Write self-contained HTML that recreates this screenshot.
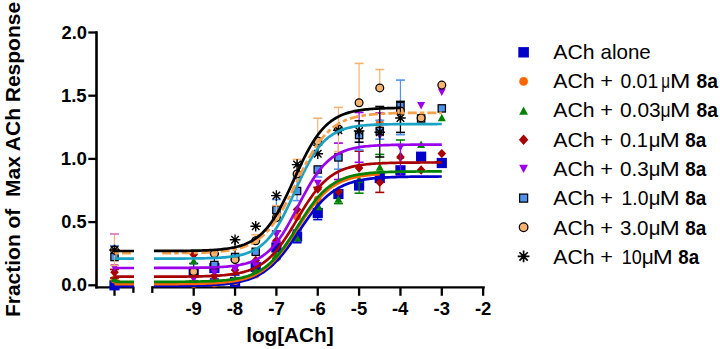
<!DOCTYPE html>
<html><head><meta charset="utf-8"><style>
html,body{margin:0;padding:0;background:#fff;width:720px;height:349px;overflow:hidden}
svg{display:block}
text{font-family:"Liberation Sans",sans-serif}
.tk{font-size:18px;font-weight:bold}
.ti{font-size:20px;font-weight:bold}
.lg{font-size:20px}
.lg .b{font-weight:bold}
.lg .mu{font-family:"Liberation Serif",serif}
</style></head><body>
<svg width="720" height="349" viewBox="0 0 720 349">
<rect width="720" height="349" fill="#fff"/>
<g stroke="#000" stroke-width="2.6" fill="none" stroke-linecap="butt">
<path d="M96.5 31.2V288.6"/>
</g>
<g stroke="#000" stroke-width="2.3" fill="none">
<path d="M88.3 285.3H97"/>
<path d="M88.3 222.1H97"/>
<path d="M88.3 158.9H97"/>
<path d="M88.3 95.7H97"/>
<path d="M88.3 32.5H97"/>
<path d="M95.3 287.4H134.4"/>
<path d="M152.3 287.4H484.8"/>
<path d="M114.5 287.4V295.8"/>
<path d="M133.4 287.4V292.9"/>
<path d="M152.3 286.2V292.9"/>
<path d="M193.7 287.4V295.8"/>
<path d="M235.05 287.4V295.8"/>
<path d="M276.4 287.4V295.8"/>
<path d="M317.75 287.4V295.8"/>
<path d="M359.1 287.4V295.8"/>
<path d="M400.45 287.4V295.8"/>
<path d="M441.8 287.4V295.8"/>
<path d="M483.15 287.4V295.8"/>
</g>
<path d="M193.7 272.5V263.5" stroke="#0000C8" stroke-width="1.2"/><path d="M189.2 263.5h9" stroke="#0000C8" stroke-width="1.6"/><path d="M193.7 272.5V281" stroke="#0000C8" stroke-width="1.2"/><path d="M189.2 281h9" stroke="#0000C8" stroke-width="1.6"/>
<path d="M214.38 268V254.4" stroke="#0000C8" stroke-width="1.2"/><path d="M209.88 254.4h9" stroke="#0000C8" stroke-width="1.6"/><path d="M214.38 268V279" stroke="#0000C8" stroke-width="1.2"/><path d="M209.88 279h9" stroke="#0000C8" stroke-width="1.6"/>
<path d="M235.05 282V275" stroke="#0000C8" stroke-width="1.2"/><path d="M230.55 275h9" stroke="#0000C8" stroke-width="1.6"/>
<path d="M255.72 267V274.4" stroke="#0000C8" stroke-width="1.2"/><path d="M251.22 274.4h9" stroke="#0000C8" stroke-width="1.6"/>
<path d="M276.4 247.5V258.5" stroke="#0000C8" stroke-width="1.2"/><path d="M271.9 258.5h9" stroke="#0000C8" stroke-width="1.6"/>
<path d="M297.07 236.6V230.2" stroke="#0000C8" stroke-width="1.2"/><path d="M292.57 230.2h9" stroke="#0000C8" stroke-width="1.6"/><path d="M297.07 236.6V242.7" stroke="#0000C8" stroke-width="1.2"/><path d="M292.57 242.7h9" stroke="#0000C8" stroke-width="1.6"/>
<path d="M317.75 213V219.6" stroke="#0000C8" stroke-width="1.2"/><path d="M313.25 219.6h9" stroke="#0000C8" stroke-width="1.6"/>
<rect x="109.4" y="280.2" width="10.2" height="10.2" fill="#0000C8"/>
<rect x="188.6" y="267.4" width="10.2" height="10.2" fill="#0000C8"/>
<rect x="209.28" y="262.9" width="10.2" height="10.2" fill="#0000C8"/>
<rect x="229.95" y="276.9" width="10.2" height="10.2" fill="#0000C8"/>
<rect x="250.62" y="261.9" width="10.2" height="10.2" fill="#0000C8"/>
<rect x="271.3" y="242.4" width="10.2" height="10.2" fill="#0000C8"/>
<rect x="291.97" y="231.5" width="10.2" height="10.2" fill="#0000C8"/>
<rect x="312.65" y="207.9" width="10.2" height="10.2" fill="#0000C8"/>
<rect x="333.32" y="188.9" width="10.2" height="10.2" fill="#0000C8"/>
<rect x="354" y="180.4" width="10.2" height="10.2" fill="#0000C8"/>
<rect x="374.67" y="172.9" width="10.2" height="10.2" fill="#0000C8"/>
<rect x="395.35" y="165.2" width="10.2" height="10.2" fill="#0000C8"/>
<rect x="416.02" y="151.6" width="10.2" height="10.2" fill="#0000C8"/>
<rect x="436.7" y="157.9" width="10.2" height="10.2" fill="#0000C8"/>
<circle cx="114.5" cy="279.5" r="4" fill="#FF6600"/>
<circle cx="193.7" cy="283.84" r="4" fill="#FF6600"/>
<circle cx="214.38" cy="283.15" r="4" fill="#FF6600"/>
<circle cx="235.05" cy="280.96" r="4" fill="#FF6600"/>
<circle cx="255.72" cy="274.49" r="4" fill="#FF6600"/>
<circle cx="276.4" cy="258.1" r="4" fill="#FF6600"/>
<circle cx="297.07" cy="216.5" r="4" fill="#FF6600"/>
<circle cx="317.75" cy="199.8" r="4" fill="#FF6600"/>
<circle cx="379.77" cy="123" r="4" fill="#FF6600"/>
<path d="M276.4 255V258.6" stroke="#008200" stroke-width="1.2"/><path d="M271.9 258.6h9" stroke="#008200" stroke-width="1.6"/>
<path d="M317.75 205V209.5" stroke="#008200" stroke-width="1.2"/><path d="M313.25 209.5h9" stroke="#008200" stroke-width="1.6"/>
<path d="M338.42 199V203.6" stroke="#008200" stroke-width="1.2"/><path d="M333.92 203.6h9" stroke="#008200" stroke-width="1.6"/>
<path d="M359.1 179V193.2" stroke="#008200" stroke-width="1.2"/><path d="M354.6 193.2h9" stroke="#008200" stroke-width="1.6"/>
<path d="M379.77 167V154.4" stroke="#008200" stroke-width="1.2"/><path d="M375.27 154.4h9" stroke="#008200" stroke-width="1.6"/>
<path d="M400.45 155V140" stroke="#008200" stroke-width="1.2"/><path d="M395.95 140h9" stroke="#008200" stroke-width="1.6"/>
<path d="M114.5 274.7L118.5 282.3L110.5 282.3Z" fill="#008200"/>
<path d="M193.7 257L197.7 264.6L189.7 264.6Z" fill="#008200"/>
<path d="M214.38 277.2L218.38 284.8L210.38 284.8Z" fill="#008200"/>
<path d="M235.05 275.2L239.05 282.8L231.05 282.8Z" fill="#008200"/>
<path d="M255.72 266.2L259.73 273.8L251.72 273.8Z" fill="#008200"/>
<path d="M276.4 251.2L280.4 258.8L272.4 258.8Z" fill="#008200"/>
<path d="M297.07 233.7L301.07 241.3L293.07 241.3Z" fill="#008200"/>
<path d="M317.75 201.2L321.75 208.8L313.75 208.8Z" fill="#008200"/>
<path d="M338.42 195.2L342.42 202.8L334.42 202.8Z" fill="#008200"/>
<path d="M359.1 175.2L363.1 182.8L355.1 182.8Z" fill="#008200"/>
<path d="M379.77 163.2L383.77 170.8L375.77 170.8Z" fill="#008200"/>
<path d="M400.45 151.2L404.45 158.8L396.45 158.8Z" fill="#008200"/>
<path d="M421.12 140.4L425.12 148L417.12 148Z" fill="#008200"/>
<path d="M441.8 113.7L445.8 121.3L437.8 121.3Z" fill="#008200"/>
<path d="M114.5 272.3V269.4" stroke="#A80000" stroke-width="1.2"/><path d="M110 269.4h9" stroke="#A80000" stroke-width="1.6"/><path d="M114.5 272.3V278" stroke="#A80000" stroke-width="1.2"/><path d="M110 278h9" stroke="#A80000" stroke-width="1.6"/>
<path d="M276.4 240.6V230.9" stroke="#A80000" stroke-width="1.2"/><path d="M271.9 230.9h9" stroke="#A80000" stroke-width="1.6"/>
<path d="M317.75 189V187.3" stroke="#A80000" stroke-width="1.2"/><path d="M313.25 187.3h9" stroke="#A80000" stroke-width="1.6"/>
<path d="M359.1 168V151.2" stroke="#A80000" stroke-width="1.2"/><path d="M354.6 151.2h9" stroke="#A80000" stroke-width="1.6"/>
<path d="M379.77 182.4V192.4" stroke="#A80000" stroke-width="1.2"/><path d="M375.27 192.4h9" stroke="#A80000" stroke-width="1.6"/>
<path d="M114.5 267.6L118.8 272.3L114.5 277L110.2 272.3Z" fill="#A80000"/>
<path d="M193.7 249.8L198 254.5L193.7 259.2L189.4 254.5Z" fill="#A80000"/>
<path d="M214.38 271.3L218.68 276L214.38 280.7L210.07 276Z" fill="#A80000"/>
<path d="M235.05 265.3L239.35 270L235.05 274.7L230.75 270Z" fill="#A80000"/>
<path d="M255.72 255.8L260.02 260.5L255.72 265.2L251.42 260.5Z" fill="#A80000"/>
<path d="M276.4 235.9L280.7 240.6L276.4 245.3L272.1 240.6Z" fill="#A80000"/>
<path d="M297.07 204.9L301.38 209.6L297.07 214.3L292.77 209.6Z" fill="#A80000"/>
<path d="M317.75 184.3L322.05 189L317.75 193.7L313.45 189Z" fill="#A80000"/>
<path d="M338.42 186.8L342.72 191.5L338.42 196.2L334.12 191.5Z" fill="#A80000"/>
<path d="M359.1 163.3L363.4 168L359.1 172.7L354.8 168Z" fill="#A80000"/>
<path d="M379.77 177.7L384.07 182.4L379.77 187.1L375.47 182.4Z" fill="#A80000"/>
<path d="M400.45 152.3L404.75 157L400.45 161.7L396.15 157Z" fill="#A80000"/>
<path d="M421.12 165.3L425.43 170L421.12 174.7L416.82 170Z" fill="#A80000"/>
<path d="M441.8 148.9L446.1 153.6L441.8 158.3L437.5 153.6Z" fill="#A80000"/>
<path d="M276.4 235V230.9" stroke="#9A00EA" stroke-width="1.2"/><path d="M271.9 230.9h9" stroke="#9A00EA" stroke-width="1.6"/><path d="M276.4 235V242" stroke="#9A00EA" stroke-width="1.2"/><path d="M271.9 242h9" stroke="#9A00EA" stroke-width="1.6"/>
<path d="M338.42 158V143.1" stroke="#9A00EA" stroke-width="1.2"/><path d="M333.92 143.1h9" stroke="#9A00EA" stroke-width="1.6"/><path d="M338.42 158V179.5" stroke="#9A00EA" stroke-width="1.2"/><path d="M333.92 179.5h9" stroke="#9A00EA" stroke-width="1.6"/>
<path d="M359.1 137V112.5" stroke="#9A00EA" stroke-width="1.2"/><path d="M354.6 112.5h9" stroke="#9A00EA" stroke-width="1.6"/><path d="M359.1 137V162.3" stroke="#9A00EA" stroke-width="1.2"/><path d="M354.6 162.3h9" stroke="#9A00EA" stroke-width="1.6"/>
<path d="M379.77 136V112.9" stroke="#9A00EA" stroke-width="1.2"/><path d="M375.27 112.9h9" stroke="#9A00EA" stroke-width="1.6"/>
<path d="M400.45 147.5V176" stroke="#9A00EA" stroke-width="1.2"/><path d="M395.95 176h9" stroke="#9A00EA" stroke-width="1.6"/>
<path d="M110.5 264.2L118.5 264.2L114.5 271.8Z" fill="#9A00EA"/>
<path d="M189.7 275.7L197.7 275.7L193.7 283.3Z" fill="#9A00EA"/>
<path d="M210.38 268.7L218.38 268.7L214.38 276.3Z" fill="#9A00EA"/>
<path d="M231.05 265.7L239.05 265.7L235.05 273.3Z" fill="#9A00EA"/>
<path d="M251.72 262.2L259.73 262.2L255.72 269.8Z" fill="#9A00EA"/>
<path d="M272.4 231.2L280.4 231.2L276.4 238.8Z" fill="#9A00EA"/>
<path d="M313.75 179.7L321.75 179.7L317.75 187.3Z" fill="#9A00EA"/>
<path d="M334.42 154.2L342.42 154.2L338.42 161.8Z" fill="#9A00EA"/>
<path d="M355.1 133.2L363.1 133.2L359.1 140.8Z" fill="#9A00EA"/>
<path d="M375.77 132.2L383.77 132.2L379.77 139.8Z" fill="#9A00EA"/>
<path d="M396.45 143.7L404.45 143.7L400.45 151.3Z" fill="#9A00EA"/>
<path d="M417.12 102L425.12 102L421.12 109.6Z" fill="#9A00EA"/>
<path d="M437.8 88.4L445.8 88.4L441.8 96Z" fill="#9A00EA"/>
<path d="M114.5 257V245.7" stroke="#4E94EE" stroke-width="1.2"/><path d="M110 245.7h9" stroke="#4E94EE" stroke-width="1.6"/>
<path d="M276.4 210V199.5" stroke="#4E94EE" stroke-width="1.2"/><path d="M271.9 199.5h9" stroke="#4E94EE" stroke-width="1.6"/>
<path d="M297.07 191V178.3" stroke="#4E94EE" stroke-width="1.2"/><path d="M292.57 178.3h9" stroke="#4E94EE" stroke-width="1.6"/><path d="M297.07 191V200.6" stroke="#4E94EE" stroke-width="1.2"/><path d="M292.57 200.6h9" stroke="#4E94EE" stroke-width="1.6"/>
<path d="M317.75 169.5V177" stroke="#4E94EE" stroke-width="1.2"/><path d="M313.25 177h9" stroke="#4E94EE" stroke-width="1.6"/>
<path d="M338.42 157.4V169.2" stroke="#4E94EE" stroke-width="1.2"/><path d="M333.92 169.2h9" stroke="#4E94EE" stroke-width="1.6"/>
<path d="M359.1 135V150" stroke="#4E94EE" stroke-width="1.2"/><path d="M354.6 150h9" stroke="#4E94EE" stroke-width="1.6"/>
<path d="M379.77 131V120.3" stroke="#4E94EE" stroke-width="1.2"/><path d="M375.27 120.3h9" stroke="#4E94EE" stroke-width="1.6"/><path d="M379.77 131V139.2" stroke="#4E94EE" stroke-width="1.2"/><path d="M375.27 139.2h9" stroke="#4E94EE" stroke-width="1.6"/>
<path d="M400.45 106V80.1" stroke="#4E94EE" stroke-width="1.2"/><path d="M395.95 80.1h9" stroke="#4E94EE" stroke-width="1.6"/><path d="M400.45 106V134.7" stroke="#4E94EE" stroke-width="1.2"/><path d="M395.95 134.7h9" stroke="#4E94EE" stroke-width="1.6"/>
<rect x="110.85" y="253.35" width="7.3" height="7.3" fill="#4E94EE" stroke="#000" stroke-width="1.25"/>
<rect x="190.05" y="267.35" width="7.3" height="7.3" fill="#4E94EE" stroke="#000" stroke-width="1.25"/>
<rect x="210.72" y="261.35" width="7.3" height="7.3" fill="#4E94EE" stroke="#000" stroke-width="1.25"/>
<rect x="231.4" y="253.35" width="7.3" height="7.3" fill="#4E94EE" stroke="#000" stroke-width="1.25"/>
<rect x="252.07" y="248.15" width="7.3" height="7.3" fill="#4E94EE" stroke="#000" stroke-width="1.25"/>
<rect x="272.75" y="206.35" width="7.3" height="7.3" fill="#4E94EE" stroke="#000" stroke-width="1.25"/>
<rect x="293.43" y="187.35" width="7.3" height="7.3" fill="#4E94EE" stroke="#000" stroke-width="1.25"/>
<rect x="314.1" y="165.85" width="7.3" height="7.3" fill="#4E94EE" stroke="#000" stroke-width="1.25"/>
<rect x="334.77" y="153.75" width="7.3" height="7.3" fill="#4E94EE" stroke="#000" stroke-width="1.25"/>
<rect x="355.45" y="131.35" width="7.3" height="7.3" fill="#4E94EE" stroke="#000" stroke-width="1.25"/>
<rect x="376.12" y="127.35" width="7.3" height="7.3" fill="#4E94EE" stroke="#000" stroke-width="1.25"/>
<rect x="396.8" y="102.35" width="7.3" height="7.3" fill="#4E94EE" stroke="#000" stroke-width="1.25"/>
<rect x="417.48" y="114.85" width="7.3" height="7.3" fill="#4E94EE" stroke="#000" stroke-width="1.25"/>
<rect x="438.15" y="104.75" width="7.3" height="7.3" fill="#4E94EE" stroke="#000" stroke-width="1.25"/>
<path d="M114.5 250V234" stroke="#F6B470" stroke-width="1.2"/><path d="M110 234h9" stroke="#E07CC8" stroke-width="1.8"/><path d="M114.5 250V265.5" stroke="#F6B470" stroke-width="1.2"/><path d="M110 265.5h9" stroke="#F6B470" stroke-width="1.6"/>
<path d="M255.72 240.8V234.7" stroke="#F6B470" stroke-width="1.2"/><path d="M251.22 234.7h9" stroke="#F6B470" stroke-width="1.6"/>
<path d="M276.4 217.6V205.6" stroke="#F6B470" stroke-width="1.2"/><path d="M271.9 205.6h9" stroke="#F6B470" stroke-width="1.6"/>
<path d="M297.07 174V159.4" stroke="#F6B470" stroke-width="1.2"/><path d="M292.57 159.4h9" stroke="#F6B470" stroke-width="1.6"/>
<path d="M317.75 140.9V118.2" stroke="#F6B470" stroke-width="1.2"/><path d="M313.25 118.2h9" stroke="#F6B470" stroke-width="1.6"/>
<path d="M338.42 129V107.4" stroke="#F6B470" stroke-width="1.2"/><path d="M333.92 107.4h9" stroke="#F6B470" stroke-width="1.6"/><path d="M338.42 129V151.7" stroke="#F6B470" stroke-width="1.2"/><path d="M333.92 151.7h9" stroke="#F6B470" stroke-width="1.6"/>
<path d="M359.1 102.7V63.4" stroke="#F6B470" stroke-width="1.2"/><path d="M354.6 63.4h9" stroke="#F6B470" stroke-width="1.6"/>
<path d="M379.77 87.9V69.5" stroke="#F6B470" stroke-width="1.2"/><path d="M375.27 69.5h9" stroke="#F6B470" stroke-width="1.6"/>
<circle cx="114.5" cy="250" r="3.9" fill="#F6B470" stroke="#000" stroke-width="1.25"/>
<circle cx="193.7" cy="271.5" r="3.9" fill="#F6B470" stroke="#000" stroke-width="1.25"/>
<circle cx="214.38" cy="253.6" r="3.9" fill="#F6B470" stroke="#000" stroke-width="1.25"/>
<circle cx="235.05" cy="259.5" r="3.9" fill="#F6B470" stroke="#000" stroke-width="1.25"/>
<circle cx="255.72" cy="240.8" r="3.9" fill="#F6B470" stroke="#000" stroke-width="1.25"/>
<circle cx="276.4" cy="217.6" r="3.9" fill="#F6B470" stroke="#000" stroke-width="1.25"/>
<circle cx="297.07" cy="174" r="3.9" fill="#F6B470" stroke="#000" stroke-width="1.25"/>
<circle cx="317.75" cy="140.9" r="3.9" fill="#F6B470" stroke="#000" stroke-width="1.25"/>
<circle cx="338.42" cy="129" r="3.9" fill="#F6B470" stroke="#000" stroke-width="1.25"/>
<circle cx="359.1" cy="102.7" r="3.9" fill="#F6B470" stroke="#000" stroke-width="1.25"/>
<circle cx="379.77" cy="87.9" r="3.9" fill="#F6B470" stroke="#000" stroke-width="1.25"/>
<circle cx="400.45" cy="111" r="3.9" fill="#F6B470" stroke="#000" stroke-width="1.25"/>
<circle cx="421.12" cy="117.9" r="3.9" fill="#F6B470" stroke="#000" stroke-width="1.25"/>
<circle cx="441.8" cy="85.1" r="3.9" fill="#F6B470" stroke="#000" stroke-width="1.25"/>
<path d="M235.05 239.7V256.5" stroke="#000000" stroke-width="1.2"/><path d="M230.55 256.5h9" stroke="#000000" stroke-width="1.6"/>
<path d="M317.75 153.8V145.2" stroke="#000000" stroke-width="1.2"/><path d="M313.25 145.2h9" stroke="#000000" stroke-width="1.6"/>
<path d="M359.1 131V120.8" stroke="#000000" stroke-width="1.2"/><path d="M354.6 120.8h9" stroke="#000000" stroke-width="1.6"/><path d="M359.1 131V142.2" stroke="#000000" stroke-width="1.2"/><path d="M354.6 142.2h9" stroke="#000000" stroke-width="1.6"/>
<path d="M379.77 132.3V106.5" stroke="#000000" stroke-width="1.2"/><path d="M375.27 106.5h9" stroke="#000000" stroke-width="1.6"/><path d="M379.77 132.3V157" stroke="#000000" stroke-width="1.2"/><path d="M375.27 157h9" stroke="#000000" stroke-width="1.6"/>
<path d="M400.45 118V101.4" stroke="#000000" stroke-width="1.2"/><path d="M395.95 101.4h9" stroke="#000000" stroke-width="1.6"/><path d="M400.45 118V132.4" stroke="#000000" stroke-width="1.2"/><path d="M395.95 132.4h9" stroke="#000000" stroke-width="1.6"/>
<path d="M109.2 250L119.8 250M110.75 246.25L118.25 253.75M114.5 244.7L114.5 255.3M118.25 246.25L110.75 253.75" stroke="#000" stroke-width="1.4" fill="none"/><circle cx="114.5" cy="250" r="1.8"/>
<path d="M229.75 239.7L240.35 239.7M231.3 235.95L238.8 243.45M235.05 234.4L235.05 245M238.8 235.95L231.3 243.45" stroke="#000" stroke-width="1.4" fill="none"/><circle cx="235.05" cy="239.7" r="1.8"/>
<path d="M250.42 226.2L261.02 226.2M251.98 222.45L259.47 229.95M255.72 220.9L255.72 231.5M259.47 222.45L251.98 229.95" stroke="#000" stroke-width="1.4" fill="none"/><circle cx="255.72" cy="226.2" r="1.8"/>
<path d="M271.1 195.6L281.7 195.6M272.65 191.85L280.15 199.35M276.4 190.3L276.4 200.9M280.15 191.85L272.65 199.35" stroke="#000" stroke-width="1.4" fill="none"/><circle cx="276.4" cy="195.6" r="1.8"/>
<path d="M291.77 164.6L302.38 164.6M293.33 160.85L300.82 168.35M297.07 159.3L297.07 169.9M300.82 160.85L293.33 168.35" stroke="#000" stroke-width="1.4" fill="none"/><circle cx="297.07" cy="164.6" r="1.8"/>
<path d="M312.45 153.8L323.05 153.8M314 150.05L321.5 157.55M317.75 148.5L317.75 159.1M321.5 150.05L314 157.55" stroke="#000" stroke-width="1.4" fill="none"/><circle cx="317.75" cy="153.8" r="1.8"/>
<path d="M333.12 130.2L343.72 130.2M334.68 126.45L342.17 133.95M338.42 124.9L338.42 135.5M342.17 126.45L334.68 133.95" stroke="#000" stroke-width="1.4" fill="none"/><circle cx="338.42" cy="130.2" r="1.8"/>
<path d="M353.8 131L364.4 131M355.35 127.25L362.85 134.75M359.1 125.7L359.1 136.3M362.85 127.25L355.35 134.75" stroke="#000" stroke-width="1.4" fill="none"/><circle cx="359.1" cy="131" r="1.8"/>
<path d="M374.47 132.3L385.07 132.3M376.03 128.55L383.52 136.05M379.77 127L379.77 137.6M383.52 128.55L376.03 136.05" stroke="#000" stroke-width="1.4" fill="none"/><circle cx="379.77" cy="132.3" r="1.8"/>
<path d="M395.15 118L405.75 118M396.7 114.25L404.2 121.75M400.45 112.7L400.45 123.3M404.2 114.25L396.7 121.75" stroke="#000" stroke-width="1.4" fill="none"/><circle cx="400.45" cy="118" r="1.8"/>
<path d="M153.9 286.02 L155.82 286.01 L157.74 286.01 L159.66 286 L161.58 286 L163.5 285.99 L165.42 285.98 L167.34 285.97 L169.25 285.96 L171.17 285.95 L173.09 285.94 L175.01 285.93 L176.93 285.91 L178.85 285.9 L180.77 285.88 L182.69 285.86 L184.61 285.84 L186.53 285.81 L188.45 285.79 L190.37 285.76 L192.29 285.72 L194.21 285.69 L196.13 285.65 L198.04 285.6 L199.96 285.55 L201.88 285.5 L203.8 285.44 L205.72 285.37 L207.64 285.29 L209.56 285.21 L211.48 285.12 L213.4 285.01 L215.32 284.9 L217.24 284.78 L219.16 284.64 L221.08 284.48 L223 284.31 L224.92 284.12 L226.83 283.92 L228.75 283.69 L230.67 283.43 L232.59 283.15 L234.51 282.84 L236.43 282.5 L238.35 282.12 L240.27 281.71 L242.19 281.25 L244.11 280.75 L246.03 280.2 L247.95 279.6 L249.87 278.93 L251.79 278.21 L253.71 277.41 L255.62 276.55 L257.54 275.6 L259.46 274.58 L261.38 273.46 L263.3 272.25 L265.22 270.95 L267.14 269.54 L269.06 268.03 L270.98 266.4 L272.9 264.67 L274.82 262.82 L276.74 260.86 L278.66 258.78 L280.58 256.59 L282.5 254.3 L284.41 251.9 L286.33 249.4 L288.25 246.82 L290.17 244.16 L292.09 241.44 L294.01 238.66 L295.93 235.84 L297.85 233 L299.77 230.15 L301.69 227.3 L303.61 224.48 L305.53 221.69 L307.45 218.95 L309.37 216.28 L311.29 213.68 L313.2 211.17 L315.12 208.75 L317.04 206.43 L318.96 204.22 L320.88 202.11 L322.8 200.13 L324.72 198.25 L326.64 196.49 L328.56 194.84 L330.48 193.31 L332.4 191.88 L334.32 190.55 L336.24 189.32 L338.16 188.19 L340.08 187.14 L341.99 186.18 L343.91 185.3 L345.83 184.49 L347.75 183.75 L349.67 183.07 L351.59 182.45 L353.51 181.89 L355.43 181.38 L357.35 180.91 L359.27 180.49 L361.19 180.11 L363.11 179.76 L365.03 179.44 L366.95 179.15 L368.87 178.9 L370.78 178.66 L372.7 178.45 L374.62 178.26 L376.54 178.08 L378.46 177.92 L380.38 177.78 L382.3 177.65 L384.22 177.54 L386.14 177.43 L388.06 177.34 L389.98 177.25 L391.9 177.18 L393.82 177.11 L395.74 177.04 L397.66 176.99 L399.57 176.94 L401.49 176.89 L403.41 176.85 L405.33 176.81 L407.25 176.78 L409.17 176.75 L411.09 176.72 L413.01 176.7 L414.93 176.67 L416.85 176.65 L418.77 176.63 L420.69 176.62 L422.61 176.6 L424.53 176.59 L426.45 176.58 L428.36 176.57 L430.28 176.56 L432.2 176.55 L434.12 176.54 L436.04 176.53 L437.96 176.53 L439.88 176.52 L441.8 176.52 M114.5 286.06 H134" stroke="#0000C8" stroke-width="2.7" fill="none"/>
<path d="M153.9 284.13 L155.41 284.13 L156.91 284.12 L158.42 284.12 L159.92 284.12 L161.43 284.11 L162.94 284.11 L164.44 284.1 L165.95 284.1 L167.45 284.09 L168.96 284.08 L170.46 284.08 L171.97 284.07 L173.48 284.06 L174.98 284.05 L176.49 284.04 L177.99 284.03 L179.5 284.02 L181 284.01 L182.51 283.99 L184.02 283.98 L185.52 283.96 L187.03 283.94 L188.53 283.92 L190.04 283.9 L191.55 283.88 L193.05 283.86 L194.56 283.83 L196.06 283.8 L197.57 283.77 L199.07 283.73 L200.58 283.69 L202.09 283.65 L203.59 283.61 L205.1 283.56 L206.6 283.5 L208.11 283.45 L209.62 283.38 L211.12 283.32 L212.63 283.24 L214.13 283.16 L215.64 283.07 L217.14 282.98 L218.65 282.87 L220.16 282.76 L221.66 282.64 L223.17 282.5 L224.67 282.36 L226.18 282.2 L227.69 282.03 L229.19 281.84 L230.7 281.64 L232.2 281.42 L233.71 281.19 L235.21 280.93 L236.72 280.65 L238.23 280.35 L239.73 280.03 L241.24 279.68 L242.74 279.29 L244.25 278.88 L245.76 278.44 L247.26 277.96 L248.77 277.44 L250.27 276.88 L251.78 276.28 L253.28 275.64 L254.79 274.95 L256.3 274.2 L257.8 273.4 L259.31 272.55 L260.81 271.63 L262.32 270.66 L263.83 269.61 L265.33 268.51 L266.84 267.33 L268.34 266.08 L269.85 264.75 L271.35 263.35 L272.86 261.88 L274.37 260.32 L275.87 258.69 L277.38 256.99 L278.88 255.2 L280.39 253.35 L281.9 251.42 L283.4 249.42 L284.91 247.36 L286.41 245.24 L287.92 243.07 L289.42 240.84 L290.93 238.58 L292.44 236.28 L293.94 233.95 L295.45 231.61 L296.95 229.25 L298.46 226.89 L299.97 224.54 L301.47 222.2 L302.98 219.89 L304.48 217.61 L305.99 215.36 L307.5 213.16 L309 211.01 L310.51 208.92 L312.01 206.89 L313.52 204.93 L315.02 203.04 L316.53 201.22 L318.04 199.48 L319.54 197.81 L321.05 196.22 L322.55 194.71 L324.06 193.27 L325.56 191.91 L327.07 190.62 L328.58 189.41 L330.08 188.27 L331.59 187.19 L333.09 186.18 L334.6 185.24 L336.11 184.35 L337.61 183.53 L339.12 182.76 L340.62 182.04 L342.13 181.37 L343.63 180.75 L345.14 180.17 L346.65 179.64 L348.15 179.14 L349.66 178.68 L351.16 178.25 L352.67 177.85 L354.18 177.49 L355.68 177.15 L357.19 176.84 L358.69 176.55 L360.2 176.28 L361.7 176.04 L363.21 175.81 L364.72 175.6 L366.22 175.41 L367.73 175.23 L369.23 175.06 L370.74 174.91 L372.25 174.77 L373.75 174.65 L375.26 174.53 L376.76 174.42 L378.27 174.32 L379.77 174.23 M114.5 284.16 H134" stroke="#FF6600" stroke-width="2.7" fill="none"/>
<path d="M153.9 281.86 L155.82 281.86 L157.74 281.85 L159.66 281.85 L161.58 281.85 L163.5 281.84 L165.42 281.84 L167.34 281.83 L169.25 281.82 L171.17 281.81 L173.09 281.81 L175.01 281.8 L176.93 281.79 L178.85 281.77 L180.77 281.76 L182.69 281.75 L184.61 281.73 L186.53 281.71 L188.45 281.69 L190.37 281.67 L192.29 281.64 L194.21 281.61 L196.13 281.58 L198.04 281.54 L199.96 281.5 L201.88 281.46 L203.8 281.41 L205.72 281.35 L207.64 281.29 L209.56 281.22 L211.48 281.14 L213.4 281.05 L215.32 280.95 L217.24 280.85 L219.16 280.72 L221.08 280.59 L223 280.44 L224.92 280.27 L226.83 280.08 L228.75 279.87 L230.67 279.64 L232.59 279.38 L234.51 279.09 L236.43 278.77 L238.35 278.42 L240.27 278.02 L242.19 277.59 L244.11 277.1 L246.03 276.57 L247.95 275.97 L249.87 275.32 L251.79 274.59 L253.71 273.8 L255.62 272.92 L257.54 271.96 L259.46 270.91 L261.38 269.76 L263.3 268.5 L265.22 267.13 L267.14 265.65 L269.06 264.05 L270.98 262.32 L272.9 260.46 L274.82 258.47 L276.74 256.35 L278.66 254.1 L280.58 251.72 L282.5 249.21 L284.41 246.59 L286.33 243.87 L288.25 241.04 L290.17 238.14 L292.09 235.16 L294.01 232.14 L295.93 229.08 L297.85 226 L299.77 222.93 L301.69 219.89 L303.61 216.88 L305.53 213.93 L307.45 211.06 L309.37 208.28 L311.29 205.59 L313.2 203.02 L315.12 200.57 L317.04 198.24 L318.96 196.05 L320.88 193.98 L322.8 192.05 L324.72 190.24 L326.64 188.57 L328.56 187.01 L330.48 185.58 L332.4 184.26 L334.32 183.05 L336.24 181.94 L338.16 180.93 L340.08 180 L341.99 179.16 L343.91 178.4 L345.83 177.7 L347.75 177.07 L349.67 176.5 L351.59 175.99 L353.51 175.53 L355.43 175.11 L357.35 174.73 L359.27 174.39 L361.19 174.08 L363.11 173.81 L365.03 173.56 L366.95 173.34 L368.87 173.14 L370.78 172.96 L372.7 172.8 L374.62 172.65 L376.54 172.52 L378.46 172.41 L380.38 172.3 L382.3 172.21 L384.22 172.13 L386.14 172.05 L388.06 171.99 L389.98 171.93 L391.9 171.87 L393.82 171.82 L395.74 171.78 L397.66 171.74 L399.57 171.71 L401.49 171.68 L403.41 171.65 L405.33 171.62 L407.25 171.6 L409.17 171.58 L411.09 171.56 L413.01 171.55 L414.93 171.53 L416.85 171.52 L418.77 171.51 L420.69 171.5 L422.61 171.49 L424.53 171.48 L426.45 171.48 L428.36 171.47 L430.28 171.46 L432.2 171.46 L434.12 171.45 L436.04 171.45 L437.96 171.45 L439.88 171.44 L441.8 171.44 M114.5 281.89 H134" stroke="#008200" stroke-width="2.7" fill="none"/>
<path d="M153.9 276.68 L155.82 276.68 L157.74 276.67 L159.66 276.67 L161.58 276.67 L163.5 276.66 L165.42 276.66 L167.34 276.65 L169.25 276.64 L171.17 276.64 L173.09 276.63 L175.01 276.62 L176.93 276.61 L178.85 276.6 L180.77 276.58 L182.69 276.57 L184.61 276.55 L186.53 276.53 L188.45 276.51 L190.37 276.49 L192.29 276.46 L194.21 276.44 L196.13 276.4 L198.04 276.37 L199.96 276.33 L201.88 276.28 L203.8 276.23 L205.72 276.18 L207.64 276.11 L209.56 276.04 L211.48 275.96 L213.4 275.88 L215.32 275.78 L217.24 275.67 L219.16 275.54 L221.08 275.41 L223 275.25 L224.92 275.08 L226.83 274.89 L228.75 274.68 L230.67 274.44 L232.59 274.18 L234.51 273.88 L236.43 273.56 L238.35 273.19 L240.27 272.79 L242.19 272.34 L244.11 271.84 L246.03 271.28 L247.95 270.67 L249.87 269.99 L251.79 269.24 L253.71 268.41 L255.62 267.5 L257.54 266.5 L259.46 265.4 L261.38 264.2 L263.3 262.89 L265.22 261.45 L267.14 259.9 L269.06 258.22 L270.98 256.4 L272.9 254.45 L274.82 252.36 L276.74 250.12 L278.66 247.75 L280.58 245.24 L282.5 242.61 L284.41 239.85 L286.33 236.98 L288.25 234 L290.17 230.94 L292.09 227.82 L294.01 224.64 L295.93 221.42 L297.85 218.2 L299.77 214.99 L301.69 211.8 L303.61 208.66 L305.53 205.59 L307.45 202.61 L309.37 199.72 L311.29 196.94 L313.2 194.29 L315.12 191.76 L317.04 189.37 L318.96 187.11 L320.88 185 L322.8 183.03 L324.72 181.19 L326.64 179.49 L328.56 177.91 L330.48 176.46 L332.4 175.13 L334.32 173.92 L336.24 172.8 L338.16 171.79 L340.08 170.86 L341.99 170.02 L343.91 169.26 L345.83 168.57 L347.75 167.95 L349.67 167.39 L351.59 166.88 L353.51 166.42 L355.43 166.01 L357.35 165.64 L359.27 165.31 L361.19 165.01 L363.11 164.74 L365.03 164.5 L366.95 164.28 L368.87 164.09 L370.78 163.91 L372.7 163.76 L374.62 163.62 L376.54 163.49 L378.46 163.38 L380.38 163.28 L382.3 163.19 L384.22 163.11 L386.14 163.04 L388.06 162.98 L389.98 162.92 L391.9 162.87 L393.82 162.82 L395.74 162.78 L397.66 162.75 L399.57 162.71 L401.49 162.68 L403.41 162.66 L405.33 162.63 L407.25 162.61 L409.17 162.6 L411.09 162.58 L413.01 162.56 L414.93 162.55 L416.85 162.54 L418.77 162.53 L420.69 162.52 L422.61 162.51 L424.53 162.5 L426.45 162.5 L428.36 162.49 L430.28 162.48 L432.2 162.48 L434.12 162.48 L436.04 162.47 L437.96 162.47 L439.88 162.46 L441.8 162.46 M114.5 276.7 H134" stroke="#A80000" stroke-width="2.7" fill="none"/>
<path d="M153.9 267.97 L155.82 267.97 L157.74 267.96 L159.66 267.96 L161.58 267.96 L163.5 267.96 L165.42 267.95 L167.34 267.95 L169.25 267.95 L171.17 267.94 L173.09 267.93 L175.01 267.93 L176.93 267.92 L178.85 267.91 L180.77 267.9 L182.69 267.89 L184.61 267.88 L186.53 267.87 L188.45 267.86 L190.37 267.84 L192.29 267.82 L194.21 267.8 L196.13 267.78 L198.04 267.75 L199.96 267.72 L201.88 267.69 L203.8 267.65 L205.72 267.61 L207.64 267.56 L209.56 267.51 L211.48 267.45 L213.4 267.38 L215.32 267.3 L217.24 267.21 L219.16 267.12 L221.08 267 L223 266.88 L224.92 266.74 L226.83 266.58 L228.75 266.41 L230.67 266.21 L232.59 265.98 L234.51 265.73 L236.43 265.45 L238.35 265.13 L240.27 264.78 L242.19 264.38 L244.11 263.94 L246.03 263.44 L247.95 262.88 L249.87 262.26 L251.79 261.56 L253.71 260.79 L255.62 259.93 L257.54 258.97 L259.46 257.91 L261.38 256.74 L263.3 255.44 L265.22 254.02 L267.14 252.46 L269.06 250.75 L270.98 248.89 L272.9 246.86 L274.82 244.67 L276.74 242.3 L278.66 239.77 L280.58 237.06 L282.5 234.19 L284.41 231.15 L286.33 227.97 L288.25 224.64 L290.17 221.2 L292.09 217.65 L294.01 214.03 L295.93 210.35 L297.85 206.64 L299.77 202.93 L301.69 199.24 L303.61 195.61 L305.53 192.04 L307.45 188.58 L309.37 185.23 L311.29 182.02 L313.2 178.96 L315.12 176.05 L317.04 173.32 L318.96 170.75 L320.88 168.35 L322.8 166.13 L324.72 164.07 L326.64 162.18 L328.56 160.44 L330.48 158.85 L332.4 157.41 L334.32 156.09 L336.24 154.9 L338.16 153.82 L340.08 152.84 L341.99 151.96 L343.91 151.18 L345.83 150.47 L347.75 149.83 L349.67 149.26 L351.59 148.75 L353.51 148.3 L355.43 147.89 L357.35 147.53 L359.27 147.2 L361.19 146.92 L363.11 146.66 L365.03 146.43 L366.95 146.23 L368.87 146.05 L370.78 145.89 L372.7 145.74 L374.62 145.62 L376.54 145.5 L378.46 145.4 L380.38 145.32 L382.3 145.24 L384.22 145.17 L386.14 145.1 L388.06 145.05 L389.98 145 L391.9 144.96 L393.82 144.92 L395.74 144.88 L397.66 144.85 L399.57 144.83 L401.49 144.8 L403.41 144.78 L405.33 144.76 L407.25 144.75 L409.17 144.73 L411.09 144.72 L413.01 144.71 L414.93 144.7 L416.85 144.69 L418.77 144.68 L420.69 144.67 L422.61 144.67 L424.53 144.66 L426.45 144.66 L428.36 144.65 L430.28 144.65 L432.2 144.64 L434.12 144.64 L436.04 144.64 L437.96 144.64 L439.88 144.63 L441.8 144.63 M114.5 267.98 H134" stroke="#9A00EA" stroke-width="2.7" fill="none"/>
<path d="M153.9 258.62 L155.82 258.62 L157.74 258.61 L159.66 258.61 L161.58 258.61 L163.5 258.61 L165.42 258.6 L167.34 258.6 L169.25 258.6 L171.17 258.59 L173.09 258.59 L175.01 258.58 L176.93 258.57 L178.85 258.57 L180.77 258.56 L182.69 258.55 L184.61 258.54 L186.53 258.52 L188.45 258.51 L190.37 258.49 L192.29 258.48 L194.21 258.45 L196.13 258.43 L198.04 258.4 L199.96 258.37 L201.88 258.34 L203.8 258.3 L205.72 258.26 L207.64 258.21 L209.56 258.15 L211.48 258.08 L213.4 258.01 L215.32 257.93 L217.24 257.83 L219.16 257.73 L221.08 257.61 L223 257.47 L224.92 257.31 L226.83 257.14 L228.75 256.94 L230.67 256.72 L232.59 256.46 L234.51 256.17 L236.43 255.85 L238.35 255.48 L240.27 255.07 L242.19 254.6 L244.11 254.08 L246.03 253.49 L247.95 252.83 L249.87 252.08 L251.79 251.25 L253.71 250.31 L255.62 249.27 L257.54 248.1 L259.46 246.81 L261.38 245.37 L263.3 243.78 L265.22 242.03 L267.14 240.09 L269.06 237.98 L270.98 235.67 L272.9 233.15 L274.82 230.44 L276.74 227.51 L278.66 224.38 L280.58 221.05 L282.5 217.53 L284.41 213.83 L286.33 209.97 L288.25 205.98 L290.17 201.87 L292.09 197.68 L294.01 193.44 L295.93 189.18 L297.85 184.94 L299.77 180.75 L301.69 176.64 L303.61 172.65 L305.53 168.79 L307.45 165.09 L309.37 161.57 L311.29 158.24 L313.2 155.11 L315.12 152.19 L317.04 149.48 L318.96 146.96 L320.88 144.66 L322.8 142.54 L324.72 140.61 L326.64 138.85 L328.56 137.26 L330.48 135.83 L332.4 134.53 L334.32 133.37 L336.24 132.33 L338.16 131.39 L340.08 130.56 L341.99 129.81 L343.91 129.15 L345.83 128.56 L347.75 128.04 L349.67 127.57 L351.59 127.16 L353.51 126.79 L355.43 126.47 L357.35 126.18 L359.27 125.93 L361.19 125.7 L363.11 125.5 L365.03 125.33 L366.95 125.17 L368.87 125.04 L370.78 124.92 L372.7 124.81 L374.62 124.71 L376.54 124.63 L378.46 124.56 L380.38 124.49 L382.3 124.44 L384.22 124.39 L386.14 124.34 L388.06 124.3 L389.98 124.27 L391.9 124.24 L393.82 124.21 L395.74 124.19 L397.66 124.17 L399.57 124.15 L401.49 124.13 L403.41 124.12 L405.33 124.11 L407.25 124.1 L409.17 124.09 L411.09 124.08 L413.01 124.07 L414.93 124.06 L416.85 124.06 L418.77 124.05 L420.69 124.05 L422.61 124.04 L424.53 124.04 L426.45 124.04 L428.36 124.03 L430.28 124.03 L432.2 124.03 L434.12 124.03 L436.04 124.03 L437.96 124.02 L439.88 124.02 L441.8 124.02 M114.5 258.63 H134" stroke="#1AA3C4" stroke-width="2.7" fill="none"/>
<path d="M159.5 253.15 L161.38 253.14 L163.26 253.14 L165.15 253.13 L167.03 253.12 L168.91 253.11 L170.79 253.1 L172.67 253.09 L174.56 253.08 L176.44 253.07 L178.32 253.05 L180.2 253.04 L182.08 253.02 L183.97 253 L185.85 252.97 L187.73 252.95 L189.61 252.92 L191.49 252.89 L193.38 252.85 L195.26 252.81 L197.14 252.77 L199.02 252.72 L200.9 252.66 L202.79 252.6 L204.67 252.53 L206.55 252.46 L208.43 252.37 L210.31 252.28 L212.2 252.17 L214.08 252.05 L215.96 251.92 L217.84 251.78 L219.72 251.61 L221.61 251.43 L223.49 251.23 L225.37 251 L227.25 250.75 L229.13 250.47 L231.02 250.16 L232.9 249.82 L234.78 249.44 L236.66 249.01 L238.54 248.54 L240.43 248.02 L242.31 247.45 L244.19 246.81 L246.07 246.1 L247.95 245.32 L249.84 244.46 L251.72 243.52 L253.6 242.48 L255.48 241.34 L257.36 240.09 L259.25 238.72 L261.13 237.23 L263.01 235.6 L264.89 233.84 L266.77 231.93 L268.66 229.86 L270.54 227.64 L272.42 225.26 L274.3 222.72 L276.18 220.01 L278.07 217.14 L279.95 214.12 L281.83 210.94 L283.71 207.62 L285.59 204.17 L287.48 200.6 L289.36 196.93 L291.24 193.19 L293.12 189.38 L295 185.53 L296.89 181.67 L298.77 177.82 L300.65 173.99 L302.53 170.22 L304.41 166.53 L306.3 162.93 L308.18 159.44 L310.06 156.07 L311.94 152.85 L313.82 149.77 L315.71 146.85 L317.59 144.09 L319.47 141.5 L321.35 139.06 L323.23 136.79 L325.12 134.68 L327 132.72 L328.88 130.91 L330.76 129.24 L332.64 127.71 L334.53 126.3 L336.41 125.01 L338.29 123.84 L340.17 122.76 L342.05 121.79 L343.94 120.9 L345.82 120.1 L347.7 119.37 L349.58 118.71 L351.46 118.12 L353.35 117.58 L355.23 117.09 L357.11 116.65 L358.99 116.26 L360.87 115.9 L362.76 115.58 L364.64 115.29 L366.52 115.03 L368.4 114.8 L370.28 114.59 L372.17 114.4 L374.05 114.23 L375.93 114.08 L377.81 113.95 L379.69 113.82 L381.58 113.71 L383.46 113.62 L385.34 113.53 L387.22 113.45 L389.1 113.38 L390.99 113.31 L392.87 113.26 L394.75 113.21 L396.63 113.16 L398.51 113.12 L400.4 113.08 L402.28 113.05 L404.16 113.02 L406.04 112.99 L407.92 112.97 L409.81 112.95 L411.69 112.93 L413.57 112.91 L415.45 112.9 L417.33 112.88 L419.22 112.87 L421.1 112.86 L422.98 112.85 L424.86 112.84 L426.74 112.83 L428.63 112.83 L430.51 112.82 L432.39 112.81 L434.27 112.81 L436.15 112.8 L438.04 112.8 L439.92 112.8 L441.8 112.79" stroke="#F7A04A" stroke-width="2.7" fill="none" stroke-dasharray="9 3 4.5 3" stroke-dashoffset="16.8"/><path d="M114.5 253.19 H134" stroke="#F7A04A" stroke-width="2.7" fill="none" stroke-dasharray="9 3 4.5 3" stroke-dashoffset="12"/>
<path d="M153.9 250.96 L155.54 250.95 L157.19 250.95 L158.83 250.95 L160.47 250.94 L162.12 250.94 L163.76 250.93 L165.41 250.93 L167.05 250.92 L168.69 250.92 L170.34 250.91 L171.98 250.9 L173.62 250.89 L175.27 250.88 L176.91 250.87 L178.56 250.86 L180.2 250.85 L181.84 250.83 L183.49 250.82 L185.13 250.8 L186.77 250.78 L188.42 250.76 L190.06 250.73 L191.7 250.71 L193.35 250.68 L194.99 250.65 L196.64 250.61 L198.28 250.57 L199.92 250.53 L201.57 250.48 L203.21 250.43 L204.85 250.37 L206.5 250.31 L208.14 250.24 L209.78 250.16 L211.43 250.07 L213.07 249.98 L214.72 249.87 L216.36 249.75 L218 249.63 L219.65 249.48 L221.29 249.33 L222.93 249.15 L224.58 248.96 L226.22 248.75 L227.87 248.52 L229.51 248.27 L231.15 247.99 L232.8 247.68 L234.44 247.34 L236.08 246.96 L237.73 246.55 L239.37 246.1 L241.01 245.6 L242.66 245.05 L244.3 244.46 L245.95 243.8 L247.59 243.08 L249.23 242.3 L250.88 241.44 L252.52 240.51 L254.16 239.49 L255.81 238.38 L257.45 237.17 L259.09 235.87 L260.74 234.45 L262.38 232.93 L264.03 231.28 L265.67 229.51 L267.31 227.61 L268.96 225.58 L270.6 223.41 L272.24 221.1 L273.89 218.66 L275.53 216.07 L277.18 213.35 L278.82 210.5 L280.46 207.51 L282.11 204.41 L283.75 201.2 L285.39 197.89 L287.04 194.49 L288.68 191.01 L290.32 187.48 L291.97 183.91 L293.61 180.32 L295.26 176.72 L296.9 173.14 L298.54 169.58 L300.19 166.08 L301.83 162.63 L303.47 159.27 L305.12 156 L306.76 152.84 L308.4 149.79 L310.05 146.87 L311.69 144.08 L313.34 141.42 L314.98 138.9 L316.62 136.51 L318.27 134.27 L319.91 132.16 L321.55 130.19 L323.2 128.35 L324.84 126.64 L326.49 125.05 L328.13 123.57 L329.77 122.21 L331.42 120.95 L333.06 119.79 L334.7 118.73 L336.35 117.75 L337.99 116.85 L339.63 116.02 L341.28 115.27 L342.92 114.58 L344.57 113.95 L346.21 113.38 L347.85 112.86 L349.5 112.38 L351.14 111.95 L352.78 111.55 L354.43 111.19 L356.07 110.87 L357.71 110.57 L359.36 110.3 L361 110.06 L362.65 109.84 L364.29 109.64 L365.93 109.45 L367.58 109.29 L369.22 109.14 L370.86 109 L372.51 108.88 L374.15 108.77 L375.8 108.67 L377.44 108.58 L379.08 108.5 L380.73 108.42 L382.37 108.35 L384.01 108.29 L385.66 108.24 L387.3 108.19 L388.94 108.14 L390.59 108.1 L392.23 108.06 L393.88 108.03 L395.52 108 L397.16 107.97 L398.81 107.94 L400.45 107.92 M114.5 250.98 H134" stroke="#000000" stroke-width="2.7" fill="none"/>
<rect x="518.3" y="47.10" width="10.6" height="10.4" fill="#0000C8"/>
<text x="553.29" y="58.70" font-family='"Liberation Sans",sans-serif' font-weight="normal" font-size="21" textLength="41.29" lengthAdjust="spacingAndGlyphs">ACh</text>
<text x="600.48" y="58.70" font-family='"Liberation Sans",sans-serif' font-weight="normal" font-size="21" textLength="50.29" lengthAdjust="spacingAndGlyphs">alone</text>
<circle cx="523.6" cy="81.46" r="4.4" fill="#FF6600"/>
<text x="553.29" y="88.04" font-family='"Liberation Sans",sans-serif' font-weight="normal" font-size="21" textLength="41.29" lengthAdjust="spacingAndGlyphs">ACh</text>
<text x="600.32" y="88.04" font-family='"Liberation Sans",sans-serif' font-weight="normal" font-size="21" textLength="12.64" lengthAdjust="spacingAndGlyphs">+</text>
<text x="620.42" y="88.04" font-family='"Liberation Sans",sans-serif' font-weight="normal" font-size="21" textLength="37.77" lengthAdjust="spacingAndGlyphs">0.01</text>
<text x="661.19" y="88.04" font-family='"Liberation Serif",serif' font-weight="normal" font-size="21" textLength="8.79" lengthAdjust="spacingAndGlyphs">μ</text>
<text x="670.14" y="88.04" font-family='"Liberation Sans",sans-serif' font-weight="normal" font-size="21" textLength="20.39" lengthAdjust="spacingAndGlyphs">M</text>
<text x="696.52" y="88.04" font-family='"Liberation Sans",sans-serif' font-weight="bold" font-size="21" textLength="21.43" lengthAdjust="spacingAndGlyphs">8a</text>
<path d="M523.6 106.44L528 114.8L519.2 114.8Z" fill="#008200"/>
<text x="553.29" y="117.38" font-family='"Liberation Sans",sans-serif' font-weight="normal" font-size="21" textLength="41.29" lengthAdjust="spacingAndGlyphs">ACh</text>
<text x="600.32" y="117.38" font-family='"Liberation Sans",sans-serif' font-weight="normal" font-size="21" textLength="12.64" lengthAdjust="spacingAndGlyphs">+</text>
<text x="619.96" y="117.38" font-family='"Liberation Sans",sans-serif' font-weight="normal" font-size="21" textLength="40.71" lengthAdjust="spacingAndGlyphs">0.03</text>
<text x="660.60" y="117.38" font-family='"Liberation Serif",serif' font-weight="normal" font-size="21" textLength="10.08" lengthAdjust="spacingAndGlyphs">μ</text>
<text x="670.14" y="117.38" font-family='"Liberation Sans",sans-serif' font-weight="normal" font-size="21" textLength="20.39" lengthAdjust="spacingAndGlyphs">M</text>
<text x="696.52" y="117.38" font-family='"Liberation Sans",sans-serif' font-weight="bold" font-size="21" textLength="21.43" lengthAdjust="spacingAndGlyphs">8a</text>
<path d="M523.6 134.61L528.33 139.78L523.6 144.95L518.87 139.78Z" fill="#A80000"/>
<text x="553.29" y="146.72" font-family='"Liberation Sans",sans-serif' font-weight="normal" font-size="21" textLength="41.29" lengthAdjust="spacingAndGlyphs">ACh</text>
<text x="600.32" y="146.72" font-family='"Liberation Sans",sans-serif' font-weight="normal" font-size="21" textLength="12.64" lengthAdjust="spacingAndGlyphs">+</text>
<text x="620.00" y="146.72" font-family='"Liberation Sans",sans-serif' font-weight="normal" font-size="21" textLength="27.91" lengthAdjust="spacingAndGlyphs">0.1</text>
<text x="648.65" y="146.72" font-family='"Liberation Serif",serif' font-weight="normal" font-size="21" textLength="11.76" lengthAdjust="spacingAndGlyphs">μ</text>
<text x="659.78" y="146.72" font-family='"Liberation Sans",sans-serif' font-weight="normal" font-size="21" textLength="20.02" lengthAdjust="spacingAndGlyphs">M</text>
<text x="685.13" y="146.72" font-family='"Liberation Sans",sans-serif' font-weight="bold" font-size="21" textLength="21.02" lengthAdjust="spacingAndGlyphs">8a</text>
<path d="M519.2 164.76L528 164.76L523.6 173.12Z" fill="#9A00EA"/>
<text x="553.29" y="176.06" font-family='"Liberation Sans",sans-serif' font-weight="normal" font-size="21" textLength="41.29" lengthAdjust="spacingAndGlyphs">ACh</text>
<text x="600.32" y="176.06" font-family='"Liberation Sans",sans-serif' font-weight="normal" font-size="21" textLength="12.64" lengthAdjust="spacingAndGlyphs">+</text>
<text x="619.98" y="176.06" font-family='"Liberation Sans",sans-serif' font-weight="normal" font-size="21" textLength="28.66" lengthAdjust="spacingAndGlyphs">0.3</text>
<text x="648.65" y="176.06" font-family='"Liberation Serif",serif' font-weight="normal" font-size="21" textLength="11.76" lengthAdjust="spacingAndGlyphs">μ</text>
<text x="659.78" y="176.06" font-family='"Liberation Sans",sans-serif' font-weight="normal" font-size="21" textLength="20.02" lengthAdjust="spacingAndGlyphs">M</text>
<text x="685.13" y="176.06" font-family='"Liberation Sans",sans-serif' font-weight="bold" font-size="21" textLength="21.02" lengthAdjust="spacingAndGlyphs">8a</text>
<rect x="519.59" y="194.09" width="8.03" height="8.03" fill="#4E94EE" stroke="#000" stroke-width="1.25"/>
<text x="553.29" y="205.40" font-family='"Liberation Sans",sans-serif' font-weight="normal" font-size="21" textLength="41.29" lengthAdjust="spacingAndGlyphs">ACh</text>
<text x="600.32" y="205.40" font-family='"Liberation Sans",sans-serif' font-weight="normal" font-size="21" textLength="12.64" lengthAdjust="spacingAndGlyphs">+</text>
<text x="621.55" y="205.40" font-family='"Liberation Sans",sans-serif' font-weight="normal" font-size="21" textLength="26.93" lengthAdjust="spacingAndGlyphs">1.0</text>
<text x="648.65" y="205.40" font-family='"Liberation Serif",serif' font-weight="normal" font-size="21" textLength="11.76" lengthAdjust="spacingAndGlyphs">μ</text>
<text x="659.78" y="205.40" font-family='"Liberation Sans",sans-serif' font-weight="normal" font-size="21" textLength="20.02" lengthAdjust="spacingAndGlyphs">M</text>
<text x="685.13" y="205.40" font-family='"Liberation Sans",sans-serif' font-weight="bold" font-size="21" textLength="21.02" lengthAdjust="spacingAndGlyphs">8a</text>
<circle cx="523.6" cy="227.26" r="4.29" fill="#F6B470" stroke="#000" stroke-width="1.25"/>
<text x="553.29" y="234.74" font-family='"Liberation Sans",sans-serif' font-weight="normal" font-size="21" textLength="41.29" lengthAdjust="spacingAndGlyphs">ACh</text>
<text x="600.32" y="234.74" font-family='"Liberation Sans",sans-serif' font-weight="normal" font-size="21" textLength="12.64" lengthAdjust="spacingAndGlyphs">+</text>
<text x="619.98" y="234.74" font-family='"Liberation Sans",sans-serif' font-weight="normal" font-size="21" textLength="28.55" lengthAdjust="spacingAndGlyphs">3.0</text>
<text x="648.65" y="234.74" font-family='"Liberation Serif",serif' font-weight="normal" font-size="21" textLength="11.76" lengthAdjust="spacingAndGlyphs">μ</text>
<text x="659.78" y="234.74" font-family='"Liberation Sans",sans-serif' font-weight="normal" font-size="21" textLength="20.02" lengthAdjust="spacingAndGlyphs">M</text>
<text x="685.13" y="234.74" font-family='"Liberation Sans",sans-serif' font-weight="bold" font-size="21" textLength="21.02" lengthAdjust="spacingAndGlyphs">8a</text>
<path d="M517.7 256.42L529.5 256.42M519.43 252.25L527.77 260.59M523.6 250.52L523.6 262.32M527.77 252.25L519.43 260.59" stroke="#000" stroke-width="1.7" fill="none"/><circle cx="523.6" cy="256.42" r="1.8"/>
<text x="553.29" y="264.08" font-family='"Liberation Sans",sans-serif' font-weight="normal" font-size="21" textLength="41.29" lengthAdjust="spacingAndGlyphs">ACh</text>
<text x="600.32" y="264.08" font-family='"Liberation Sans",sans-serif' font-weight="normal" font-size="21" textLength="12.64" lengthAdjust="spacingAndGlyphs">+</text>
<text x="621.65" y="264.08" font-family='"Liberation Sans",sans-serif' font-weight="normal" font-size="21" textLength="20.01" lengthAdjust="spacingAndGlyphs">10</text>
<text x="641.81" y="264.08" font-family='"Liberation Serif",serif' font-weight="normal" font-size="21" textLength="12.02" lengthAdjust="spacingAndGlyphs">μ</text>
<text x="652.88" y="264.08" font-family='"Liberation Sans",sans-serif' font-weight="normal" font-size="21" textLength="20.02" lengthAdjust="spacingAndGlyphs">M</text>
<text x="678.34" y="264.08" font-family='"Liberation Sans",sans-serif' font-weight="bold" font-size="21" textLength="20.82" lengthAdjust="spacingAndGlyphs">8a</text>
<g transform="translate(0 291.30) scale(1 1.05)"><text x="61.36" y="0.00" font-family='"Liberation Sans",sans-serif' font-weight="bold" font-size="18" textLength="25.57" lengthAdjust="spacingAndGlyphs">0.0</text></g>
<g transform="translate(0 228.10) scale(1 1.05)"><text x="61.37" y="0.00" font-family='"Liberation Sans",sans-serif' font-weight="bold" font-size="18" textLength="25.29" lengthAdjust="spacingAndGlyphs">0.5</text></g>
<g transform="translate(0 164.90) scale(1 1.05)"><text x="60.88" y="0.00" font-family='"Liberation Sans",sans-serif' font-weight="bold" font-size="18" textLength="26.07" lengthAdjust="spacingAndGlyphs">1.0</text></g>
<g transform="translate(0 101.70) scale(1 1.05)"><text x="60.90" y="0.00" font-family='"Liberation Sans",sans-serif' font-weight="bold" font-size="18" textLength="25.77" lengthAdjust="spacingAndGlyphs">1.5</text></g>
<g transform="translate(0 38.50) scale(1 1.05)"><text x="61.46" y="0.00" font-family='"Liberation Sans",sans-serif' font-weight="bold" font-size="18" textLength="25.48" lengthAdjust="spacingAndGlyphs">2.0</text></g>
<text x="185.43" y="315.00" font-family='"Liberation Sans",sans-serif' font-weight="bold" font-size="18" textLength="16.44" lengthAdjust="spacingAndGlyphs">-9</text>
<text x="226.73" y="315.00" font-family='"Liberation Sans",sans-serif' font-weight="bold" font-size="18" textLength="16.44" lengthAdjust="spacingAndGlyphs">-8</text>
<text x="268.22" y="315.00" font-family='"Liberation Sans",sans-serif' font-weight="bold" font-size="18" textLength="16.45" lengthAdjust="spacingAndGlyphs">-7</text>
<text x="309.48" y="315.00" font-family='"Liberation Sans",sans-serif' font-weight="bold" font-size="18" textLength="16.44" lengthAdjust="spacingAndGlyphs">-6</text>
<text x="350.74" y="315.00" font-family='"Liberation Sans",sans-serif' font-weight="bold" font-size="18" textLength="16.44" lengthAdjust="spacingAndGlyphs">-5</text>
<text x="391.91" y="315.00" font-family='"Liberation Sans",sans-serif' font-weight="bold" font-size="18" textLength="16.43" lengthAdjust="spacingAndGlyphs">-4</text>
<text x="433.53" y="315.00" font-family='"Liberation Sans",sans-serif' font-weight="bold" font-size="18" textLength="16.44" lengthAdjust="spacingAndGlyphs">-3</text>
<text x="474.92" y="315.00" font-family='"Liberation Sans",sans-serif' font-weight="bold" font-size="18" textLength="16.45" lengthAdjust="spacingAndGlyphs">-2</text>
<text x="246.15" y="341.60" font-family='"Liberation Sans",sans-serif' font-weight="bold" font-size="21" textLength="87.41" lengthAdjust="spacingAndGlyphs">log[ACh]</text>
<g transform="translate(19.6 0) rotate(-90)"><text x="-317.06" y="0.00" font-family='"Liberation Sans",sans-serif' font-weight="bold" font-size="21" textLength="315.12" lengthAdjust="spacingAndGlyphs">Fraction of  Max ACh Response</text></g>
</svg>
</body></html>
